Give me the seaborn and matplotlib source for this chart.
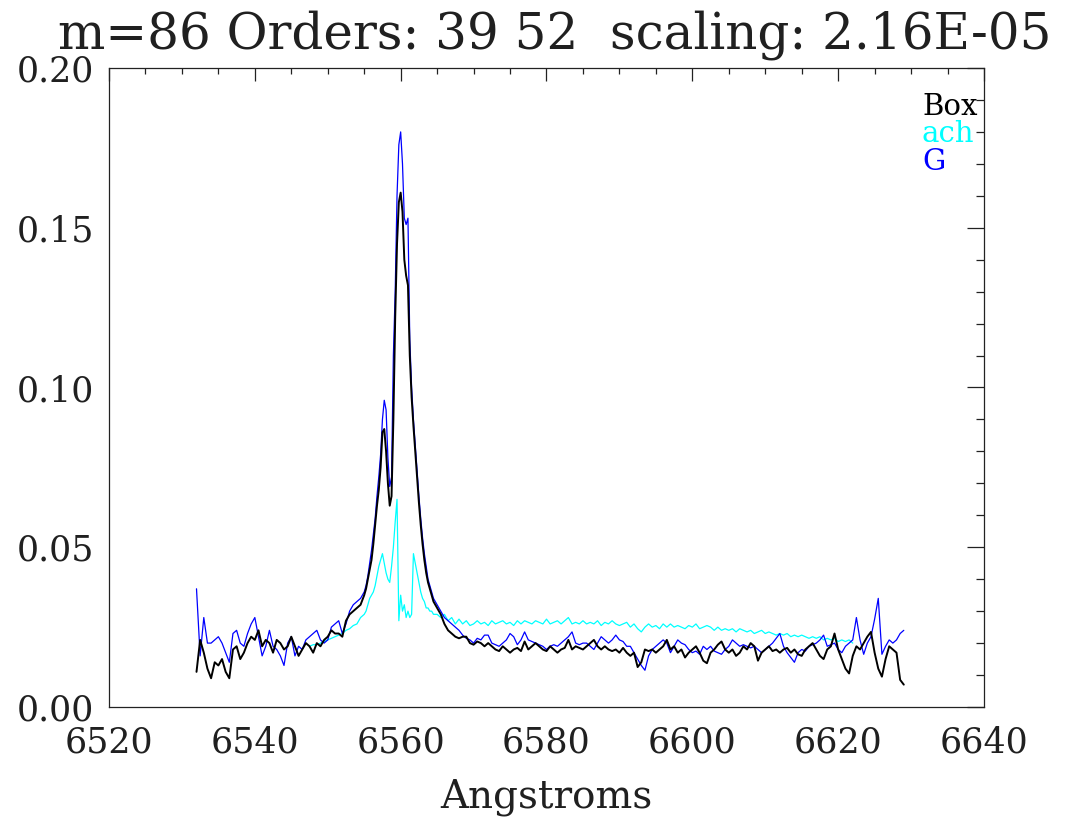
import numpy as np
import pandas as pd
import matplotlib
matplotlib.use("Agg")
import matplotlib.pyplot as plt
import seaborn as sns
from matplotlib.ticker import MultipleLocator

# ---------------- data ----------------
title_text = "m=86 Orders: 39 52  scaling: 2.16E-05"
x_label = "Angstroms"
series_names = ["Box", "ach", "G"]
series_colors = ["#000000", "#00FFFF", "#0000FF"]

# wavelength grids (Angstrom): 0.5 A outside the line core, 0.25 A in the core
wave_left = np.arange(6532.0, 6555.0, 0.5)
wave_core = np.arange(6555.0, 6565.0, 0.25)
wave_right = np.arange(6565.0, 6629.01, 0.5)
ach_left = np.arange(6547.5, 6555.0, 0.5)
ach_right = np.arange(6565.0, 6622.01, 0.5)

box_left = [0.011, 0.021, 0.017, 0.012, 0.009, 0.014, 0.013, 0.015, 0.011, 0.009,
            0.018, 0.019, 0.015, 0.017, 0.020, 0.022, 0.021, 0.024, 0.019, 0.021,
            0.020, 0.017, 0.021, 0.020, 0.018, 0.019, 0.022, 0.019, 0.016, 0.018,
            0.020, 0.019, 0.017, 0.020, 0.019, 0.021, 0.022, 0.024, 0.023, 0.023,
            0.022, 0.027, 0.029, 0.030, 0.031, 0.032]
box_core = [0.035, 0.037, 0.040, 0.043, 0.046, 0.051, 0.057, 0.063, 0.068, 0.075,
            0.086, 0.087, 0.080, 0.070, 0.063, 0.066, 0.090, 0.122, 0.145, 0.158,
            0.161, 0.155, 0.140, 0.135, 0.132, 0.110, 0.097, 0.088, 0.080, 0.072,
            0.064, 0.057, 0.051, 0.046, 0.042, 0.039, 0.037, 0.035, 0.033, 0.032]
box_right = [0.031, 0.029, 0.026, 0.024, 0.023, 0.022, 0.0215, 0.022, 0.022, 0.020,
             0.0195, 0.0205, 0.020, 0.019, 0.020, 0.019, 0.018, 0.0175, 0.019, 0.018,
             0.017, 0.018, 0.0185, 0.0175, 0.0205, 0.018, 0.019, 0.020, 0.019, 0.018,
             0.0175, 0.019, 0.018, 0.017, 0.018, 0.0185, 0.021, 0.018, 0.019, 0.0185,
             0.018, 0.019, 0.020, 0.021, 0.019, 0.018, 0.019, 0.018, 0.0175, 0.018,
             0.017, 0.0185, 0.017, 0.016, 0.017, 0.0125, 0.014, 0.018, 0.0175, 0.018,
             0.017, 0.018, 0.019, 0.021, 0.018, 0.019, 0.017, 0.018, 0.0155, 0.017,
             0.018, 0.019, 0.017, 0.0145, 0.0137, 0.017, 0.018, 0.0195, 0.0205, 0.018,
             0.017, 0.018, 0.016, 0.017, 0.019, 0.018, 0.020, 0.019, 0.0145, 0.017,
             0.018, 0.019, 0.0175, 0.018, 0.017, 0.018, 0.0185, 0.017, 0.018, 0.0165,
             0.016, 0.018, 0.019, 0.020, 0.018, 0.016, 0.015, 0.018, 0.019, 0.023,
             0.018, 0.015, 0.012, 0.0105, 0.016, 0.019, 0.018, 0.020, 0.022, 0.0235,
             0.017, 0.012, 0.0095, 0.015, 0.019, 0.018, 0.017, 0.0085, 0.007]

g_left = [0.037, 0.016, 0.028, 0.020, 0.020, 0.021, 0.022, 0.020, 0.017, 0.014,
          0.023, 0.024, 0.020, 0.019, 0.023, 0.026, 0.028, 0.022, 0.016, 0.019,
          0.024, 0.019, 0.018, 0.016, 0.013, 0.020, 0.022, 0.016, 0.019, 0.018,
          0.021, 0.022, 0.023, 0.024, 0.021, 0.020, 0.021, 0.025, 0.026, 0.027,
          0.023, 0.026, 0.030, 0.032, 0.033, 0.034]
g_core = [0.036, 0.038, 0.041, 0.045, 0.049, 0.054, 0.059, 0.066, 0.072, 0.079,
          0.090, 0.096, 0.093, 0.078, 0.069, 0.072, 0.110, 0.130, 0.160, 0.176,
          0.180, 0.170, 0.153, 0.151, 0.153, 0.115, 0.100, 0.090, 0.082, 0.074,
          0.066, 0.059, 0.053, 0.048, 0.044, 0.040, 0.038, 0.036, 0.034, 0.033]
g_right = [0.032, 0.030, 0.028, 0.027, 0.026, 0.025, 0.024, 0.0225, 0.0215, 0.021,
           0.020, 0.0215, 0.021, 0.0225, 0.0225, 0.020, 0.0195, 0.019, 0.020, 0.021,
           0.023, 0.022, 0.0195, 0.021, 0.0235, 0.021, 0.0205, 0.020, 0.0195, 0.019,
           0.018, 0.019, 0.0195, 0.019, 0.020, 0.021, 0.022, 0.0235, 0.020, 0.0195,
           0.020, 0.020, 0.019, 0.018, 0.020, 0.022, 0.021, 0.020, 0.021, 0.0225,
           0.021, 0.0205, 0.019, 0.019, 0.017, 0.015, 0.013, 0.0115, 0.016, 0.018,
           0.019, 0.020, 0.021, 0.020, 0.017, 0.019, 0.021, 0.020, 0.0195, 0.018,
           0.017, 0.0175, 0.0165, 0.019, 0.018, 0.019, 0.0175, 0.017, 0.0165, 0.018,
           0.019, 0.021, 0.020, 0.019, 0.0195, 0.019, 0.0185, 0.019, 0.018, 0.017,
           0.018, 0.019, 0.020, 0.0215, 0.023, 0.019, 0.017, 0.0155, 0.014, 0.017,
           0.018, 0.0175, 0.019, 0.0195, 0.020, 0.021, 0.0225, 0.019, 0.0195, 0.020,
           0.018, 0.017, 0.019, 0.020, 0.021, 0.028, 0.021, 0.0165, 0.020, 0.022,
           0.0275, 0.034, 0.0165, 0.019, 0.021, 0.020, 0.021, 0.023, 0.024]

ach_vals_left = [0.019, 0.0195, 0.0195, 0.020, 0.0205, 0.021, 0.0215, 0.022, 0.0225, 0.023,
                 0.024, 0.0245, 0.0255, 0.026, 0.028]
ach_core = [0.029, 0.030, 0.032, 0.034, 0.035, 0.036, 0.038, 0.041, 0.044, 0.046,
            0.048, 0.045, 0.042, 0.040, 0.039, 0.044, 0.050, 0.058, 0.065, 0.027,
            0.035, 0.030, 0.032, 0.028, 0.030, 0.028, 0.029, 0.048, 0.045, 0.042,
            0.039, 0.036, 0.034, 0.033, 0.031, 0.031, 0.030, 0.030, 0.029, 0.029]
ach_vals_right = [0.029, 0.028, 0.029, 0.027, 0.028, 0.026, 0.0275, 0.026, 0.027, 0.0255,
                  0.026, 0.027, 0.026, 0.0265, 0.0255, 0.027, 0.026, 0.0265, 0.027, 0.026,
                  0.0265, 0.0255, 0.027, 0.026, 0.027, 0.0265, 0.026, 0.027, 0.0265, 0.026,
                  0.0275, 0.026, 0.0265, 0.027, 0.026, 0.027, 0.028, 0.026, 0.0265, 0.026,
                  0.027, 0.026, 0.0265, 0.026, 0.027, 0.0255, 0.0265, 0.026, 0.027, 0.026,
                  0.0255, 0.026, 0.0265, 0.025, 0.026, 0.0245, 0.0235, 0.025, 0.026, 0.025,
                  0.0255, 0.0245, 0.026, 0.025, 0.026, 0.025, 0.0255, 0.025, 0.0245, 0.0255,
                  0.025, 0.026, 0.0245, 0.025, 0.0255, 0.025, 0.024, 0.025, 0.024, 0.0245,
                  0.024, 0.0245, 0.0235, 0.0245, 0.024, 0.0235, 0.024, 0.023, 0.0235, 0.024,
                  0.023, 0.0235, 0.023, 0.0225, 0.023, 0.0225, 0.023, 0.022, 0.0225, 0.022,
                  0.0225, 0.022, 0.0215, 0.022, 0.0215, 0.022, 0.021, 0.0215, 0.021, 0.0215,
                  0.0205, 0.021, 0.0205, 0.021, 0.020]

# ---------------- assemble ----------------
wave_full = np.concatenate([wave_left, wave_core, wave_right])
wave_ach = np.concatenate([ach_left, wave_core, ach_right])
box = np.concatenate([box_left, box_core, box_right])
g = np.concatenate([g_left, g_core, g_right])
ach = np.concatenate([ach_vals_left, ach_core, ach_vals_right])
assert len(box) == len(wave_full)
assert len(g) == len(wave_full)
assert len(ach) == len(wave_ach)

df_box = pd.DataFrame({"wave": wave_full, "flux": box})
df_g = pd.DataFrame({"wave": wave_full, "flux": g})
df_ach = pd.DataFrame({"wave": wave_ach, "flux": ach})

# ---------------- style ----------------
sns.set_theme(style="white")
plt.rcParams["font.family"] = ["DejaVu Serif"]
plt.rcParams["axes.edgecolor"] = "#222222"
plt.rcParams["axes.linewidth"] = 0.9

fig = plt.figure(figsize=(10.76, 8.19), dpi=100)
ax = fig.add_axes([109 / 1076, 1 - 707 / 819, (984 - 109) / 1076, (707 - 68) / 819])

sns.lineplot(data=df_ach, x="wave", y="flux", ax=ax, color=series_colors[1],
             lw=0.9, estimator=None, sort=False)
sns.lineplot(data=df_g, x="wave", y="flux", ax=ax, color=series_colors[2],
             lw=0.9, estimator=None, sort=False)
sns.lineplot(data=df_box, x="wave", y="flux", ax=ax, color=series_colors[0],
             lw=1.4, estimator=None, sort=False)

ax.set_xlim(6520, 6640)
ax.set_ylim(0.0, 0.20)
ax.xaxis.set_major_locator(MultipleLocator(20))
ax.xaxis.set_minor_locator(MultipleLocator(5))
ax.yaxis.set_major_locator(MultipleLocator(0.05))
ax.yaxis.set_minor_locator(MultipleLocator(0.01))
ax.yaxis.set_major_formatter(matplotlib.ticker.FormatStrFormatter("%.2f"))

ax.tick_params(axis="both", which="both", direction="in", top=True, right=True,
               color="#222222", width=0.9)
ax.tick_params(axis="x", which="major", length=9.5, labelsize=25, pad=13)
ax.tick_params(axis="x", which="minor", length=4.5)
ax.tick_params(axis="y", which="major", length=12, labelsize=25, pad=11)
ax.tick_params(axis="y", which="minor", length=6)
for lab in ax.get_xticklabels() + ax.get_yticklabels():
    lab.set_color("#202020")

ax.set_xlabel(x_label, fontsize=28, color="#202020", labelpad=14)
ax.set_ylabel("")

fig.text(555 / 1076, 1 - 48 / 819, title_text, ha="center",
         va="baseline", fontsize=36, color="#202020")

# text legend (upper right)
legend_y = [115, 142, 170]
for name, col, yp in zip(series_names, series_colors, legend_y):
    ax.text((922 - 109) / (984 - 109), (707 - yp) / (707 - 68), name,
            transform=ax.transAxes, ha="left", va="baseline", fontsize=21, color=col)

fig.savefig("out.png", dpi=100)
